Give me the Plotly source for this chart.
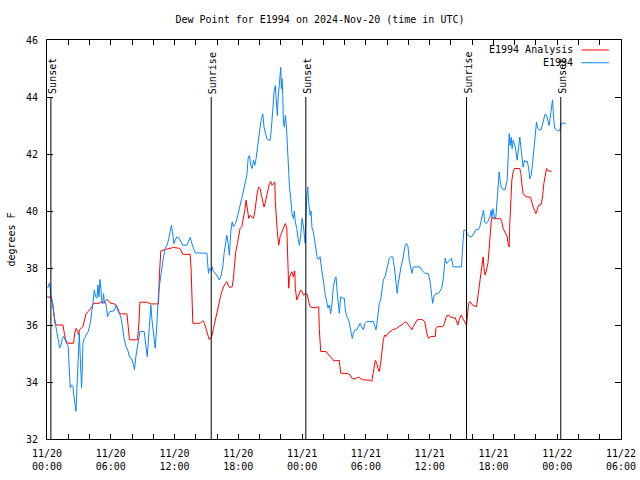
import pandas as pd
import plotly.graph_objects as go

START = "2024-11-20 00:00"

# Observed (E1994) dew point: hours since start, degrees F
obs_hours = [0.06,0.24,0.38,0.53,0.69,0.85,0.94,1.06,1.18,1.32,1.44,1.56,1.69,1.81,2.00,2.07,2.19,2.31,2.44,2.50,
 2.63,2.73,2.78,2.88,2.94,3.04,3.13,3.20,3.25,3.32,3.38,3.51,3.69,3.88,4.07,4.19,4.32,4.45,4.57,4.70,
 4.79,4.89,4.98,5.08,5.17,5.26,5.32,5.41,5.51,5.60,5.70,5.79,5.92,6.33,6.51,6.70,6.82,7.01,7.14,7.27,
 7.45,7.64,7.76,7.95,8.14,8.23,8.36,8.52,8.65,8.74,9.14,9.24,9.33,9.43,9.52,9.64,9.77,9.87,10.02,10.18,
 10.34,10.49,10.65,10.81,10.96,11.12,11.28,11.43,11.59,11.71,11.80,11.94,12.06,12.22,12.43,12.59,12.78,13.16,13.35,13.47,
 13.63,13.78,13.94,15.04,15.13,15.19,15.28,15.41,15.54,15.66,15.85,16.03,16.22,16.38,16.54,16.66,16.79,16.92,17.04,17.16,
 17.29,17.42,17.54,17.73,17.91,18.10,18.29,18.48,18.64,18.80,18.92,19.04,19.17,19.30,19.42,19.55,19.67,19.79,19.92,20.05,
 20.17,20.30,20.42,20.55,20.68,20.80,20.99,21.11,21.24,21.36,21.48,21.62,21.67,21.74,21.86,21.99,22.05,22.11,22.18,22.24,
 22.33,22.42,22.52,22.61,22.71,22.80,22.93,23.05,23.18,23.27,23.36,23.50,23.62,23.74,23.87,23.99,24.12,24.21,24.28,24.44,
 24.53,24.62,24.75,24.84,24.93,25.06,25.19,25.31,25.43,25.56,25.69,25.81,25.94,26.06,26.18,26.32,26.44,26.56,26.69,26.81,
 26.94,27.10,27.19,27.31,27.44,27.50,27.63,27.82,27.97,28.06,28.20,28.38,28.51,28.63,28.72,28.82,28.98,29.14,29.32,29.45,
 29.61,29.76,29.92,30.08,30.70,30.86,30.95,31.04,31.17,31.26,31.39,31.51,31.64,31.80,31.95,32.11,32.20,32.33,32.52,32.67,
 32.83,32.95,33.05,33.18,33.30,33.46,33.58,33.70,33.83,33.96,34.08,34.21,34.33,34.45,35.08,35.24,35.39,35.55,35.86,36.02,
 36.12,36.21,36.28,36.40,36.59,36.84,36.96,37.12,37.27,37.37,37.46,37.59,37.72,37.90,38.06,38.21,39.00,39.10,39.22,39.41,
 39.53,39.72,39.97,40.16,40.35,40.60,40.72,40.85,40.98,41.07,41.17,41.29,41.48,41.66,41.79,41.85,41.97,42.11,42.23,42.35,
 42.48,42.54,42.63,42.73,42.91,43.10,43.29,43.38,43.48,43.57,43.67,43.76,43.85,43.98,44.11,44.23,44.36,44.48,44.58,44.67,
 44.79,44.92,45.05,45.17,45.30,45.42,45.55,45.68,45.80,45.92,46.05,46.18,46.30,46.48,46.62,46.74,46.86,46.99,47.11,47.24,
 47.37,47.46,47.56,47.65,47.77,47.93,48.12,48.24,48.36,48.50,48.81]
obs_values = [37.29,37.48,36.99,36.76,36.29,36.00,35.71,35.48,35.19,35.30,35.53,35.60,35.50,35.42,35.24,34.60,33.79,33.90,33.85,33.61,
 33.26,32.97,33.49,34.66,35.24,35.71,34.89,34.19,33.79,34.43,35.36,35.53,35.65,35.77,36.06,36.53,36.76,37.23,36.99,36.94,
 37.40,36.99,37.60,37.23,36.76,36.80,37.10,36.76,36.80,36.59,36.29,36.40,36.47,36.50,36.70,36.47,36.41,36.18,35.83,35.48,
 35.24,35.07,34.87,34.83,34.60,34.43,34.89,35.24,35.65,35.77,35.77,35.42,35.19,34.89,35.36,35.94,36.70,36.20,35.59,35.19,
 36.06,37.11,37.58,38.04,38.39,38.69,38.80,38.98,39.33,39.50,39.28,38.86,38.98,39.09,39.04,38.92,38.80,38.80,38.98,39.07,
 38.86,38.69,38.53,38.52,38.16,37.81,37.98,37.92,38.04,37.87,37.81,37.69,37.58,37.75,38.04,38.51,38.86,39.15,38.86,38.45,
 39.27,39.62,39.45,39.56,39.79,40.14,40.40,40.70,40.96,41.25,41.84,41.95,41.60,41.49,41.78,41.60,41.84,42.24,42.54,42.94,
 43.24,43.41,42.94,42.71,42.54,42.50,42.48,42.89,43.59,44.17,44.40,43.82,43.35,43.94,44.64,45.04,44.29,44.64,44.05,43.12,
 42.94,43.35,43.00,42.19,41.60,40.90,40.43,39.91,39.74,40.00,39.62,39.38,39.04,38.80,39.15,39.74,39.50,38.92,38.87,40.55,
 40.84,40.30,39.85,40.00,39.40,39.27,38.90,38.69,38.34,38.30,38.40,38.04,37.75,37.40,37.05,36.76,36.60,36.70,36.40,36.75,
 37.34,37.63,37.69,37.11,36.75,36.41,36.99,36.94,36.94,36.53,36.29,36.17,35.94,35.71,35.53,35.71,35.83,35.83,35.94,36.06,
 35.94,35.83,36.06,36.12,36.12,35.94,35.83,36.06,36.64,36.75,36.88,37.23,37.58,37.69,37.93,38.28,38.34,38.39,38.39,38.04,
 37.58,37.11,37.46,37.81,38.04,38.28,38.63,38.80,38.86,38.75,38.28,38.04,37.81,38.04,38.04,37.93,37.87,37.81,37.81,37.58,
 37.28,36.94,36.76,36.99,37.11,37.11,37.17,37.28,37.58,37.93,38.34,38.16,38.22,38.28,38.34,38.04,38.04,38.74,39.33,39.33,
 39.21,39.10,39.10,39.21,39.35,39.35,39.45,39.68,39.91,40.03,39.62,39.56,39.62,39.79,40.03,39.79,40.08,39.73,39.79,40.38,
 41.08,41.37,41.08,40.84,40.75,40.75,41.08,41.89,42.71,42.30,42.59,42.19,42.48,42.36,42.13,41.78,42.25,42.59,42.25,41.89,
 41.54,41.78,41.72,41.75,41.54,41.13,41.25,41.66,42.24,42.71,43.12,42.89,42.85,42.85,43.06,43.24,43.40,43.37,43.18,43.00,
 43.37,43.64,43.90,43.30,42.89,42.85,42.80,42.83,43.06,43.08,43.08]

# Analysis dew point: hours since start, degrees F
ana_hours = [0.00,0.38,0.53,0.62,0.75,0.87,1.50,1.63,1.75,1.94,2.50,2.63,2.75,2.88,2.97,3.06,3.20,3.38,3.57,3.69,
 3.88,4.07,4.19,4.38,4.89,5.08,5.26,5.45,5.64,5.83,6.02,6.33,6.51,6.70,6.82,7.01,7.52,7.64,7.76,8.52,
 8.65,8.74,9.46,9.71,10.49,10.58,10.71,11.12,11.59,11.90,12.46,12.59,12.78,13.47,13.56,13.63,13.72,14.41,14.66,14.81,
 14.97,15.13,15.25,15.41,15.54,15.66,15.82,15.98,16.13,16.29,16.45,16.60,16.79,16.92,17.04,17.16,17.42,17.54,17.63,17.76,
 17.91,18.05,18.17,18.33,18.48,18.61,18.73,18.85,18.98,19.11,19.30,19.42,19.55,19.67,19.79,19.92,20.05,20.17,20.30,20.42,
 20.55,20.68,20.80,20.92,21.05,21.17,21.30,21.43,21.48,21.55,21.67,21.80,21.93,22.05,22.18,22.30,22.42,22.56,22.61,22.68,
 22.74,22.80,22.93,23.05,23.18,23.31,23.36,23.50,23.62,23.74,23.87,23.99,24.12,24.37,24.50,24.62,24.75,25.06,25.43,25.56,
 25.62,25.75,26.25,26.41,26.63,26.81,27.00,27.50,27.63,28.35,28.51,28.67,28.88,29.13,29.32,29.70,30.08,30.45,30.55,30.64,
 30.76,30.88,31.02,31.14,31.26,31.39,31.51,31.64,31.77,31.89,32.08,32.26,32.52,32.89,33.08,33.20,33.39,33.51,33.70,33.89,
 34.14,34.33,34.45,34.64,34.83,35.08,35.34,35.53,35.65,35.77,35.90,36.09,36.52,36.59,36.71,37.22,37.34,37.46,37.59,37.78,
 37.90,38.09,38.28,38.40,38.53,38.65,38.77,38.96,39.10,39.22,39.34,39.47,39.53,39.66,39.78,40.04,40.41,40.54,40.66,40.72,
 40.85,40.94,41.03,41.13,41.22,41.35,41.48,41.60,41.69,41.79,41.88,41.97,42.67,42.79,42.91,43.05,43.17,43.29,43.38,43.48,
 43.54,43.64,43.73,43.85,43.98,44.48,44.58,44.67,44.79,44.92,45.11,45.49,45.61,45.74,45.86,45.99,46.11,46.24,46.49,46.62,
 46.74,46.86,46.99,47.11,47.48]
ana_values = [36.99,36.97,36.76,36.41,36.06,36.00,36.00,35.71,35.48,35.36,35.36,35.77,35.88,35.77,35.65,35.83,35.88,35.94,36.24,36.41,
 36.47,36.55,36.62,36.76,36.76,36.82,36.76,36.82,36.90,36.82,36.76,36.74,36.70,36.55,36.41,36.39,36.39,35.94,35.48,35.48,
 36.06,36.80,36.80,36.74,36.74,37.81,38.60,38.65,38.69,38.72,38.69,38.63,38.48,38.48,37.93,36.70,36.06,36.06,36.15,36.06,
 35.83,35.59,35.50,35.53,35.65,35.88,36.18,36.47,36.70,36.94,37.17,37.34,37.46,37.52,37.40,37.32,37.34,37.63,38.04,38.57,
 38.86,39.15,39.39,39.45,39.74,40.03,40.38,39.97,39.74,39.85,39.80,39.74,39.97,40.43,40.67,40.84,40.78,40.55,40.32,40.14,
 40.32,40.55,40.73,40.96,41.04,40.90,40.96,41.02,40.32,39.74,39.27,38.80,39.10,39.21,39.33,39.45,39.56,39.39,38.45,37.87,
 37.29,37.63,37.81,37.87,37.69,37.90,37.29,36.88,37.00,37.11,37.23,37.17,37.05,37.11,37.05,36.82,36.64,36.60,36.64,36.64,
 35.83,35.07,35.07,34.98,34.89,34.83,34.74,34.76,34.31,34.29,34.25,34.14,34.10,34.14,34.17,34.08,34.08,34.06,34.02,34.31,
 34.48,34.76,34.66,34.48,34.37,34.66,35.01,35.48,35.65,35.60,35.71,35.77,35.83,35.88,35.94,35.97,36.00,36.06,36.12,36.06,
 35.94,35.83,35.94,36.08,36.18,36.20,36.18,36.12,35.88,35.65,35.53,35.60,35.60,35.88,35.94,35.94,36.00,36.18,36.32,36.35,
 36.29,36.27,36.24,36.26,36.12,36.00,36.18,36.35,36.24,36.15,36.06,36.00,36.24,36.76,36.82,36.70,36.64,37.00,37.34,37.58,
 37.87,38.16,38.39,37.93,37.75,37.93,38.16,38.69,39.21,39.62,39.79,39.73,39.73,39.62,39.39,39.27,39.15,39.10,38.86,38.74,
 39.56,40.61,41.08,41.37,41.49,41.49,41.31,40.96,40.61,40.55,40.50,40.48,40.26,40.14,40.03,39.91,40.03,40.20,40.23,40.49,
 40.96,41.31,41.49,41.41,41.39]

sun_times = ["2024-11-20 00:22", "2024-11-20 15:27", "2024-11-21 00:21", "2024-11-21 15:28", "2024-11-22 00:20"]
sun_labels = ["Sunset", "Sunrise", "Sunset", "Sunrise", "Sunset"]

x_range = ["2024-11-20 00:00", "2024-11-22 06:00"]
y_range = [32, 46]
y_ticks = [32, 34, 36, 38, 40, 42, 44, 46]

start = pd.Timestamp(START)
obs_t = [start + pd.Timedelta(hours=h) for h in obs_hours]
ana_t = [start + pd.Timedelta(hours=h) for h in ana_hours]

FONT = "DejaVu Sans Mono"
RED = "#ff0000"
BLUE = "#0a84ff"

fig = go.Figure()
fig.add_trace(go.Scatter(x=ana_t, y=ana_values, mode="lines", name="E1994 Analysis",
                         line=dict(color=RED, width=1)))
fig.add_trace(go.Scatter(x=obs_t, y=obs_values, mode="lines", name="E1994",
                         line=dict(color=BLUE, width=1)))

for t, lab in zip(sun_times, sun_labels):
    fig.add_shape(type="line", xref="x", yref="y", x0=t, x1=t, y0=32, y1=44,
                  line=dict(color="black", width=1))
    fig.add_annotation(x=t, y=44, xref="x", yref="y", text=lab, textangle=-90,
                       showarrow=False, xanchor="center", yanchor="bottom", yshift=1, xshift=1,
                       font=dict(family=FONT, size=10, color="black"))

# legend drawn in gnuplot style (text then sample)
legend_rows = [("E1994 Analysis", RED), ("E1994", BLUE)]
for i, (name, col) in enumerate(legend_rows):
    yp = 0.975 - i * 0.032
    fig.add_annotation(x=0.92, y=yp, xref="paper", yref="paper", text=name, showarrow=False,
                       xanchor="right", yanchor="middle", font=dict(family=FONT, size=10, color="black"))
    fig.add_shape(type="line", xref="paper", yref="paper", x0=0.931, x1=0.979, y0=yp, y1=yp,
                  line=dict(color=col, width=1))

fig.update_layout(
    width=640, height=480,
    margin=dict(l=47, r=19, t=40, b=41, autoexpand=False),
    paper_bgcolor="white", plot_bgcolor="white",
    showlegend=False,
    font=dict(family=FONT, size=10, color="black"),
    title=dict(text="Dew Point for E1994 on 2024-Nov-20 (time in UTC)", x=0.5, xanchor="center",
               y=0.96, yanchor="middle", font=dict(family=FONT, size=10, color="black")),
    xaxis=dict(range=x_range, type="date", showgrid=False, zeroline=False, automargin=False,
               showline=True, linecolor="black", linewidth=1, mirror="ticks",
               ticks="inside", ticklen=5, tickcolor="black", ticklabelstandoff=5,
               dtick=6 * 3600000, tick0="2024-11-20 00:00", tickformat="%m/%d<br>%H:%M",
               minor=dict(dtick=2 * 3600000, ticks="inside", ticklen=5, tickcolor="black", showgrid=False),
               tickfont=dict(family=FONT, size=10)),
    yaxis=dict(range=y_range, tickvals=y_ticks, showgrid=False, zeroline=False, automargin=False,
               showline=True, linecolor="black", linewidth=1, mirror="ticks",
               ticks="inside", ticklen=6, tickcolor="black", ticklabelstandoff=6,
               title=dict(text="degrees F", standoff=8, font=dict(family=FONT, size=10)),
               tickfont=dict(family=FONT, size=10)),
)

fig.write_html("out.html", config={"displayModeBar": False},
               post_script="document.body.style.margin='0';")
